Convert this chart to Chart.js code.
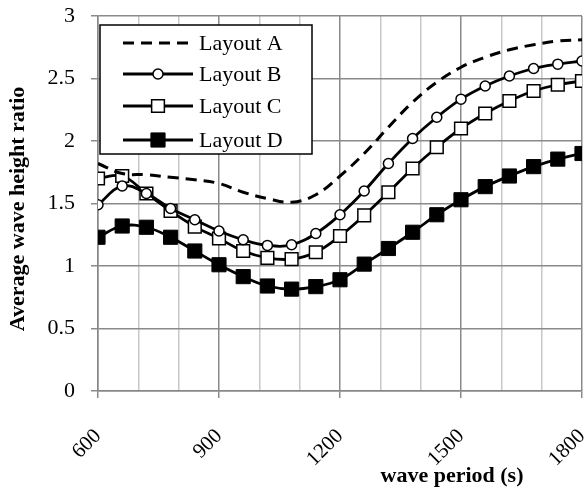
<!DOCTYPE html>
<html>
<head>
<meta charset="utf-8">
<script src="https://cdn.jsdelivr.net/npm/chart.js@4"></script>
<style>
  html, body { margin: 0; padding: 0; background: #fff; }
  #wrap { width: 588px; height: 489px; }
</style>
</head>
<body>
<div id="wrap"><canvas id="waveChart" width="588" height="489"></canvas></div>
<script>
// Valeurs (période en s, rapport de hauteur moyen)
const periods = [600, 660, 720, 780, 840, 900, 960, 1020, 1080, 1140, 1200,
                 1260, 1320, 1380, 1440, 1500, 1560, 1620, 1680, 1740, 1800];
const layoutA = [1.82, 1.74, 1.73, 1.71, 1.69, 1.66, 1.59, 1.54, 1.51, 1.57, 1.72,
                 1.90, 2.11, 2.31, 2.47, 2.59, 2.67, 2.73, 2.77, 2.80, 2.81];
const layoutB = [1.49, 1.64, 1.58, 1.46, 1.37, 1.28, 1.21, 1.165, 1.17, 1.26, 1.41,
                 1.60, 1.82, 2.02, 2.19, 2.335, 2.44, 2.52, 2.58, 2.615, 2.64];
const layoutC = [1.70, 1.72, 1.58, 1.44, 1.315, 1.22, 1.12, 1.065, 1.055, 1.11, 1.24,
                 1.405, 1.59, 1.78, 1.95, 2.10, 2.22, 2.32, 2.40, 2.45, 2.48];
const layoutD = [1.23, 1.32, 1.31, 1.23, 1.12, 1.01, 0.915, 0.84, 0.815, 0.835, 0.89,
                 1.015, 1.14, 1.27, 1.41, 1.53, 1.635, 1.72, 1.795, 1.855, 1.90];
const seriesNames = ['Layout A', 'Layout B', 'Layout C', 'Layout D'];
const yTicks = [0, 0.5, 1, 1.5, 2, 2.5, 3];
const xLabelEvery = 300;

const FONT = "'Liberation Serif', 'Times New Roman', serif";

function toPoints(values) {
    return periods.map((p, i) => ({ x: p, y: values[i] }));
}

// Légende encadrée dans la zone du graphique
const boxLegend = {
    id: 'boxLegend',
    afterDatasetsDraw(chart) {
        const ctx = chart.ctx;
        const area = chart.chartArea;
        const left = area.left + 2, top = area.top + 9;
        const width = 212, height = 129;
        ctx.save();
        ctx.fillStyle = '#fff';
        ctx.fillRect(left, top, width, height);
        ctx.strokeStyle = '#000';
        ctx.lineWidth = 1.5;
        ctx.strokeRect(left, top, width, height);

        const rowY = [18, 49, 81, 115];
        const x0 = left + 23, x1 = left + 93, xm = (x0 + x1) / 2;
        chart.data.datasets.forEach((ds, i) => {
            const y = top + rowY[i];
            ctx.strokeStyle = '#000';
            ctx.lineWidth = ds.borderWidth;
            ctx.setLineDash(ds.borderDash || []);
            ctx.beginPath();
            ctx.moveTo(x0, y);
            ctx.lineTo(x1, y);
            ctx.stroke();
            ctx.setLineDash([]);
            if (ds.pointRadius > 0) {
                ctx.lineWidth = ds.pointBorderWidth;
                ctx.fillStyle = ds.pointBackgroundColor;
                ctx.beginPath();
                if (ds.pointStyle === 'circle') {
                    ctx.arc(xm, y, ds.pointRadius, 0, Math.PI * 2);
                } else {
                    const s = ds.pointRadius * Math.SQRT1_2;
                    ctx.rect(xm - s, y - s, 2 * s, 2 * s);
                }
                ctx.fill();
                ctx.stroke();
            }
            ctx.fillStyle = '#000';
            ctx.font = '22px ' + FONT;
            ctx.textAlign = 'left';
            ctx.textBaseline = 'middle';
            ctx.fillText(ds.label, x1 + 6, y + 1);
        });
        ctx.restore();
    }
};

// Titre de l'axe X décalé vers la droite comme sur l'original
const xTitle = {
    id: 'xTitle',
    afterDraw(chart) {
        const ctx = chart.ctx;
        ctx.save();
        ctx.fillStyle = '#000';
        ctx.font = 'bold 22px ' + FONT;
        ctx.textAlign = 'center';
        ctx.textBaseline = 'middle';
        ctx.fillText('wave period (s)', chart.chartArea.right - 130, 476);
        ctx.restore();
    }
};

const ctx = document.getElementById('waveChart').getContext('2d');
const waveChart = new Chart(ctx, {
    type: 'line',
    data: {
        datasets: [{
            label: seriesNames[0],
            data: toPoints(layoutA),
            borderColor: '#000',
            borderWidth: 3,
            borderDash: [11, 7],
            pointRadius: 0,
            tension: 0.4
        }, {
            label: seriesNames[1],
            data: toPoints(layoutB),
            borderColor: '#000',
            borderWidth: 2.8,
            pointStyle: 'circle',
            pointRadius: 5,
            pointBorderWidth: 1.5,
            pointBackgroundColor: '#fff',
            pointBorderColor: '#000',
            tension: 0.4
        }, {
            label: seriesNames[2],
            data: toPoints(layoutC),
            borderColor: '#000',
            borderWidth: 2.8,
            pointStyle: 'rect',
            pointRadius: 9,
            pointBorderWidth: 1.5,
            pointBackgroundColor: '#fff',
            pointBorderColor: '#000',
            tension: 0.4
        }, {
            label: seriesNames[3],
            data: toPoints(layoutD),
            borderColor: '#000',
            borderWidth: 2.8,
            pointStyle: 'rect',
            pointRadius: 10,
            pointBorderWidth: 1,
            pointBackgroundColor: '#000',
            pointBorderColor: '#000',
            tension: 0.4
        }]
    },
    options: {
        responsive: false,
        animation: false,
        layout: { autoPadding: false, padding: { left: 0, right: 6, top: 16, bottom: 0 } },
        plugins: {
            legend: { display: false },
            tooltip: { enabled: false }
        },
        scales: {
            x: {
                type: 'linear',
                min: periods[0],
                max: periods[periods.length - 1],
                afterFit(scale) {
                    scale.height = 98;
                    scale.paddingLeft = 0;
                    scale.paddingRight = 0;
                },
                border: { color: '#888', width: 1.5 },
                grid: {
                    color: c => c.tick && c.tick.value % xLabelEvery === 0 ? '#8a8a8a' : '#c8c8c8',
                    tickColor: c => c.tick && c.tick.value % xLabelEvery === 0 ? '#8a8a8a' : 'rgba(0,0,0,0)',
                    lineWidth: 1.5,
                    tickLength: 7
                },
                ticks: {
                    stepSize: 100,
                    autoSkip: false,
                    minRotation: 45,
                    maxRotation: 45,
                    padding: 26,
                    color: '#000',
                    font: { family: FONT, size: 21 },
                    callback: v => (v % xLabelEvery === 0 ? String(v) : '')
                }
            },
            y: {
                min: yTicks[0],
                max: yTicks[yTicks.length - 1],
                afterFit(scale) {
                    scale.width = 98;
                    scale.paddingTop = 0;
                    scale.paddingBottom = 0;
                },
                afterBuildTicks(scale) { scale.ticks = yTicks.map(v => ({ value: v })); },
                border: { color: '#888', width: 1.5 },
                grid: { color: '#8a8a8a', lineWidth: 1.5, tickLength: 7 },
                ticks: {
                    padding: 16,
                    color: '#000',
                    font: { family: FONT, size: 22 },
                    callback: v => String(v)
                },
                title: {
                    display: true,
                    text: 'Average wave height ratio  ',
                    color: '#000',
                    font: { family: FONT, size: 22, weight: 'bold' },
                    padding: { top: 5, bottom: 0 }
                }
            }
        }
    },
    plugins: [boxLegend, xTitle]
});
</script>
</body>
</html>
